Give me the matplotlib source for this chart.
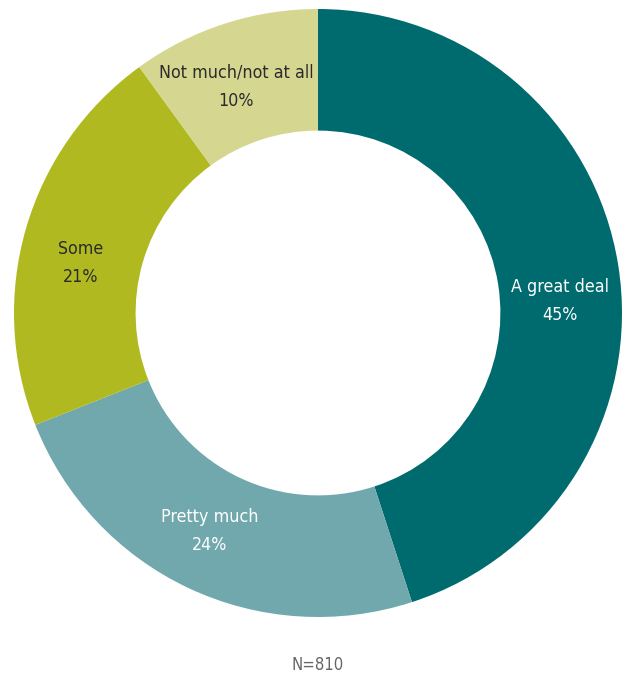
import numpy as np
import matplotlib
matplotlib.use("Agg")
import matplotlib.pyplot as plt

categories = ["A great deal", "Pretty much", "Some", "Not much/not at all"]
shares = [45, 24, 21, 10]
colors = ["#006b6e", "#70a8ad", "#b1b921", "#d5d791"]
text_colors = ["white", "white", "#2b2b2b", "#2b2b2b"]
sample_note = "N=810"

plt.rcParams["font.family"] = ["DejaVu Sans"]

W, H = 626, 679
fig = plt.figure(figsize=(W / 100, H / 100), dpi=100)
cx, cy, R = 318, 313, 304
ax = fig.add_axes([(cx - R) / W, (H - cy - R) / H, 2 * R / W, 2 * R / H])
ax.axis("off")

hole = 0.6
wedges, _ = ax.pie(shares, colors=colors, startangle=90, counterclock=False,
                   radius=1, wedgeprops=dict(width=1 - hole, linewidth=0),
                   center=(0, 0))
ax.set_xlim(-1, 1)
ax.set_ylim(-1, 1)
ax.set_aspect("equal")

# pixel nudges for the ring labels (right, down)
nudges = [(2, 26), (-5, -2), (-4, 18), (-7, 5)]
label_r = (1 + hole) / 2
for w, name, val, tc, (dx, dy) in zip(wedges, categories, shares, text_colors, nudges):
    mid = np.deg2rad((w.theta1 + w.theta2) / 2)
    x = label_r * np.cos(mid) + dx / R
    y = label_r * np.sin(mid) - dy / R
    ax.text(x, y, f"{name}\n{val}%", ha="center", va="center",
            fontsize=12.8, color=tc, linespacing=1.72, fontstretch="condensed")

fig.text(cx / W, 1 - 665 / H, sample_note, ha="center", va="center",
         fontsize=12, color="#666666", fontstretch="condensed")

fig.savefig("out.png", dpi=100, facecolor="white")
